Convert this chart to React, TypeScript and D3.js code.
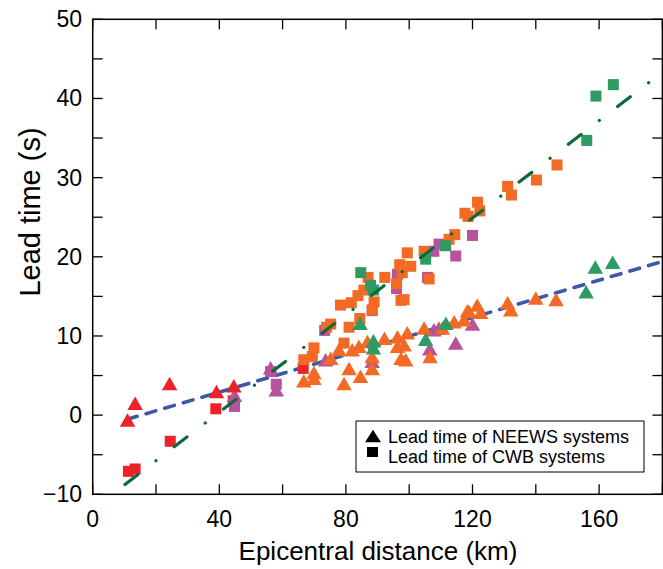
import React from "react";
import * as d3 from "d3";

// ---- data ----
const xTicks = [0, 20, 40, 60, 80, 100, 120, 140, 160, 180];
const xLabels = [0, 40, 80, 120, 160];
const yTicks = [-10, -5, 0, 5, 10, 15, 20, 25, 30, 35, 40, 45, 50];
const yLabels = [-10, 0, 10, 20, 30, 40, 50];

// NEEWS (triangles)
const triRed: [number, number][] = [[11.0, -0.6], [13.4, 1.5], [24.3, 4.0], [39.1, 3.0], [44.6, 3.7]];
const triPurple: [number, number][] = [
  [44.8, 2.5], [56.2, 6.0], [58, 3.2], [73.6, 7.0], [88.3, 6.8], [106.5, 8.4],
  [107.8, 10.8], [109.4, 11.0], [114.7, 9.1], [120, 11.5],
];
const triOrange: [number, number][] = [
  [66.7, 4.35], [69.9, 5.4], [69.9, 4.65], [75.2, 7.2], [77.8, 8.3], [79.4, 4.0], [81, 5.9],
  [82, 8.25], [84.6, 4.9], [84.1, 8.7], [86.8, 9.3], [88.3, 7.4], [88.3, 5.9], [92.2, 9.7],
  [96.3, 9.9], [96.3, 8.7], [97.4, 7.2], [98.9, 7.0], [98.4, 8.9], [99.4, 10.4], [104.7, 11.0],
  [106.6, 7.4], [110.5, 11.0], [114.2, 11.8], [117.3, 12.05], [118.9, 13.1], [118.4, 13.2],
  [121.5, 13.9], [122.6, 13.0], [131.1, 14.2], [132.1, 13.3], [140, 14.8], [146.4, 14.6],
];
const triGreen: [number, number][] = [
  [84.5, 11.6], [88.7, 9.4], [88.7, 8.5], [105.2, 9.6], [111.6, 11.6],
  [155.9, 15.6], [158.8, 18.7], [164.3, 19.3],
];

// CWB (squares)
const sqRed: [number, number][] = [[11.3, -7.1], [13.4, -6.8], [24.5, -3.3], [38.9, 0.8], [44.4, 1.8], [66.5, 5.9]];
const sqPurple: [number, number][] = [
  [44.8, 1.1], [58, 3.9], [56.2, 5.5], [73.3, 10.7], [88.3, 13.2], [96, 16.0], [96.3, 17.8],
  [105.8, 17.4], [107.8, 20.7], [109.4, 21.6], [114.7, 20.1], [120, 22.7],
];
const sqOrange: [number, number][] = [
  [66.7, 7.0], [69.4, 7.4], [69.9, 8.5], [75.2, 11.5], [73.9, 11.1], [79.4, 9.1], [81, 11.1],
  [84.4, 12.2], [78.3, 13.9], [81.7, 14.2], [83.8, 15.1], [85.7, 15.8], [87, 17.4], [88.9, 14.3],
  [88.3, 13.3], [92.3, 17.4], [96, 16.6], [97, 19.0], [97.8, 18.0], [97.4, 14.5], [98.4, 14.6],
  [100.5, 18.8], [99.4, 20.5], [104.7, 20.7], [106.3, 17.2], [112.6, 22.2], [114.4, 22.8],
  [117.6, 25.5], [118.6, 25.1], [121.6, 26.9], [122.3, 25.8], [131.1, 28.9], [132.3, 27.8],
  [140.2, 29.7], [146.7, 31.6],
];
const sqGreen: [number, number][] = [
  [84.7, 18.0], [87.8, 16.4], [88.7, 15.8], [105.2, 19.7], [111.5, 21.4],
  [156.1, 34.7], [159, 40.3], [164.5, 41.75],
];

// fit lines (endpoints)
const neewsFit: [number, number][] = [[11, -0.51], [180, 19.41]];
const cwbFit: [number, number][] = [[10.2, -8.77], [176, 42.1]];

const COLORS = { red: "#ED2226", orange: "#F26A23", purple: "#B6529E", green: "#2F9A64" };

const W = 663, H = 569;
const L = 92.7, R = 662.4, T = 19.3, B = 494.3;

export default function App() {
  const x = d3.scaleLinear().domain([0, 180]).range([L, R]);
  const y = d3.scaleLinear().domain([-10, 50]).range([B, T]);
  const line = d3.line<[number, number]>().x((d) => x(d[0])).y((d) => y(d[1]));

  const tri = (cx: number, cy: number, w = 15.5, h = 13.5) =>
    `M${cx},${cy - h / 2}L${cx + w / 2},${cy + h / 2}L${cx - w / 2},${cy + h / 2}Z`;
  const sq = 11;

  const drawSq = (data: [number, number][], color: string, key: string) =>
    data.map((d, i) => (
      <rect key={key + i} x={x(d[0]) - sq / 2} y={y(d[1]) - sq / 2} width={sq} height={sq} fill={color} />
    ));
  const drawTri = (data: [number, number][], color: string, key: string) =>
    data.map((d, i) => <path key={key + i} d={tri(x(d[0]), y(d[1]))} fill={color} />);

  const font = "'Liberation Sans', Arial, Helvetica, sans-serif";
  const tl = 10;

  return (
    <div style={{ position: "absolute", left: 0, top: 0 }}>
      <svg width={W} height={H} viewBox={`0 0 ${W} ${H}`} style={{ display: "block", background: "#fff" }}>
        <path d={line(neewsFit) || ""} fill="none" stroke="#3D58A8" strokeWidth={3.6}
          strokeDasharray="10,9.4" strokeLinecap="round" />
        {drawSq(sqRed, COLORS.red, "sr")}
        {drawSq(sqPurple, COLORS.purple, "sp")}
        {drawSq(sqOrange, COLORS.orange, "so")}
        {drawSq(sqGreen, COLORS.green, "sg")}
        {drawTri(triPurple, COLORS.purple, "tp")}
        {drawTri(triOrange, COLORS.orange, "to")}
        {drawTri(triRed, COLORS.red, "tr")}
        {drawTri(triGreen, COLORS.green, "tg")}
        <path d={line(cwbFit) || ""} fill="none" stroke="#0A6A38" strokeWidth={3.2}
          strokeDasharray="16,23,0.1,23" strokeLinecap="round" />

        {/* frame */}
        <rect x={L} y={T} width={R - L} height={B - T} fill="none" stroke="#000" strokeWidth={1.5} />
        {xTicks.map((t) => (
          <g key={"xt" + t}>
            <line x1={x(t)} x2={x(t)} y1={B} y2={B - tl} stroke="#000" strokeWidth={1.3} />
            <line x1={x(t)} x2={x(t)} y1={T} y2={T + tl} stroke="#000" strokeWidth={1.3} />
          </g>
        ))}
        {yTicks.map((t) => (
          <g key={"yt" + t}>
            <line x1={L} x2={L + tl} y1={y(t)} y2={y(t)} stroke="#000" strokeWidth={1.3} />
            <line x1={R} x2={R - tl} y1={y(t)} y2={y(t)} stroke="#000" strokeWidth={1.3} />
          </g>
        ))}
        {xLabels.map((t) => (
          <text key={"xl" + t} x={x(t)} y={527} textAnchor="middle" fontFamily={font} fontSize={23} fill="#000">
            {t}
          </text>
        ))}
        {yLabels.map((t) => (
          <text key={"yl" + t} x={82} y={y(t) + 8} textAnchor="end" fontFamily={font} fontSize={23} fill="#000">
            {t < 0 ? "\u2212" + Math.abs(t) : t}
          </text>
        ))}
        <text x={378} y={560} textAnchor="middle" fontFamily={font} fontSize={26} fill="#000">
          Epicentral distance (km)
        </text>
        <text transform="translate(40,212) rotate(-90)" textAnchor="middle" fontFamily={font} fontSize={29} fill="#000">
          Lead time (s)
        </text>

        {/* legend */}
        <rect x={356} y={421} width={288} height={51} fill="#fff" stroke="#000" strokeWidth={1} />
        <path d={tri(373, 436, 16, 12.5)} fill="#000" />
        <rect x={367} y={447} width={11} height={10} fill="#000" />
        <text x={388} y={443} fontFamily={font} fontSize={18} fill="#000">Lead time of NEEWS systems</text>
        <text x={388} y={463} fontFamily={font} fontSize={18} fill="#000">Lead time of CWB systems</text>
      </svg>
    </div>
  );
}
